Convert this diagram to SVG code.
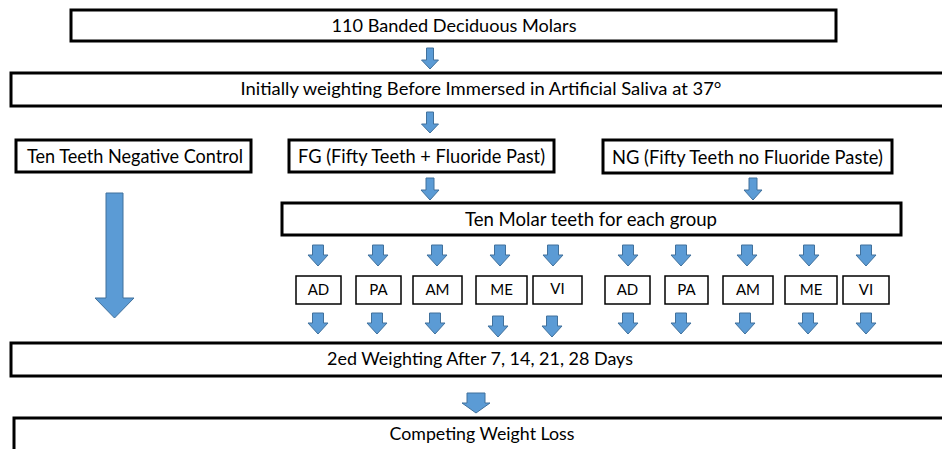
<svg xmlns="http://www.w3.org/2000/svg" width="942" height="449" viewBox="0 0 942 449">
<style>
.big{fill:#fff;stroke:#000;stroke-width:3}
.sm{fill:#fff;stroke:#000;stroke-width:1.5}
.t{font-family:Lato,"Open Sans","Liberation Sans",sans-serif;fill:#000;text-anchor:middle}
.t17{font-size:18px}
.t19{font-size:20px}
.t14{font-size:15px}
.ar{fill:#5B9BD5;stroke:#41719C;stroke-width:1}
</style>
<rect width="942" height="449" fill="#fff"/>
<g id="connectors">
<path class="ar" d="M426.5,48 H433.5 V60 H438.5 L430,69 L421.5,60 H426.5 Z"/>
<path class="ar" d="M426.5,112 H433.5 V124 H438.5 L430,133 L421.5,124 H426.5 Z"/>
<path class="ar" d="M426,178 H434 V190 H439 L430,200 L421,190 H426 Z"/>
<path class="ar" d="M749,178 H757 V190 H762 L753,200 L744,190 H749 Z"/>
<path class="ar" d="M106,193 H123 V298 H134 L114.5,318 L95,298 H106 Z"/>
<path class="ar" d="M467,393 H485 V403 H490 L476,413 L462,403 H467 Z"/>
<g id="row1">
<path class="ar" d="M312.5,245 H323.5 V255 H328 L318,266 L308,255 H312.5 Z"/>
<path class="ar" d="M372.5,245 H383.5 V255 H388 L378,266 L368,255 H372.5 Z"/>
<path class="ar" d="M431.5,245 H442.5 V255 H447 L437,266 L427,255 H431.5 Z"/>
<path class="ar" d="M494.5,245 H505.5 V255 H510 L500,266 L490,255 H494.5 Z"/>
<path class="ar" d="M547.5,245 H558.5 V255 H563 L553,266 L543,255 H547.5 Z"/>
<path class="ar" d="M622.5,245 H633.5 V255 H638 L628,266 L618,255 H622.5 Z"/>
<path class="ar" d="M675.5,245 H686.5 V255 H691 L681,266 L671,255 H675.5 Z"/>
<path class="ar" d="M741.5,245 H752.5 V255 H757 L747,266 L737,255 H741.5 Z"/>
<path class="ar" d="M803.5,245 H814.5 V255 H819 L809,266 L799,255 H803.5 Z"/>
<path class="ar" d="M860.5,245 H871.5 V255 H876 L866,266 L856,255 H860.5 Z"/>
</g>
<g id="row2">
<path class="ar" d="M312.5,313 H323.5 V323 H328 L318,334 L308,323 H312.5 Z"/>
<path class="ar" d="M371.5,313 H382.5 V323 H387 L377,334 L367,323 H371.5 Z"/>
<path class="ar" d="M429.5,313 H440.5 V323 H445 L435,334 L425,323 H429.5 Z"/>
<path class="ar" d="M492.5,316 H503.5 V326 H508 L498,337 L488,326 H492.5 Z"/>
<path class="ar" d="M546.5,316 H557.5 V326 H562 L552,337 L542,326 H546.5 Z"/>
<path class="ar" d="M622.5,313 H633.5 V323 H638 L628,334 L618,323 H622.5 Z"/>
<path class="ar" d="M675.5,313 H686.5 V323 H691 L681,334 L671,323 H675.5 Z"/>
<path class="ar" d="M739.5,313 H750.5 V323 H755 L745,334 L735,323 H739.5 Z"/>
<path class="ar" d="M802.5,313 H813.5 V323 H818 L808,334 L798,323 H802.5 Z"/>
<path class="ar" d="M860.5,313 H871.5 V323 H876 L866,334 L856,323 H860.5 Z"/>
</g>
</g>
<g id="n-molars"><rect class="big" x="71" y="10" width="765" height="31"/><text class="t t17" x="454" y="32" textLength="245" lengthAdjust="spacingAndGlyphs">110 Banded Deciduous Molars</text></g>
<g id="n-initial"><rect class="big" x="11" y="73" width="945" height="33"/><text class="t t17" x="481" y="95" textLength="481" lengthAdjust="spacingAndGlyphs">Initially weighting Before Immersed in Artificial Saliva at 37°</text></g>
<g id="n-control"><rect class="big" x="16" y="140" width="235" height="32"/><text class="t t19" x="135" y="163" textLength="216" lengthAdjust="spacingAndGlyphs">Ten Teeth Negative Control</text></g>
<g id="n-fg"><rect class="big" x="289" y="140" width="265" height="32"/><text class="t t19" x="421.5" y="163" textLength="247" lengthAdjust="spacingAndGlyphs">FG (Fifty Teeth + Fluoride Past)</text></g>
<g id="n-ng"><rect class="big" x="603" y="140" width="289" height="33"/><text class="t t19" x="747.5" y="164" textLength="271" lengthAdjust="spacingAndGlyphs">NG (Fifty Teeth no Fluoride Paste)</text></g>
<g id="n-tenmolar"><rect class="big" x="282" y="203" width="619" height="32"/><text class="t t19" x="591" y="226" textLength="252" lengthAdjust="spacingAndGlyphs">Ten Molar teeth for each group</text></g>
<g id="n-fg-ad"><rect class="sm" x="296" y="276" width="45" height="28"/><text class="t t14" x="318.5" y="295">AD</text></g>
<g id="n-fg-pa"><rect class="sm" x="356" y="276" width="45" height="28"/><text class="t t14" x="378.5" y="295">PA</text></g>
<g id="n-fg-am"><rect class="sm" x="413" y="276" width="49" height="28"/><text class="t t14" x="437.5" y="295">AM</text></g>
<g id="n-fg-me"><rect class="sm" x="476" y="276" width="51" height="28"/><text class="t t14" x="501.5" y="295">ME</text></g>
<g id="n-fg-vi"><rect class="sm" x="533" y="276" width="49" height="28"/><text class="t t14" x="557.5" y="294">VI</text></g>
<g id="n-ng-ad"><rect class="sm" x="605" y="276" width="45" height="28"/><text class="t t14" x="627.5" y="295">AD</text></g>
<g id="n-ng-pa"><rect class="sm" x="665" y="276" width="43" height="28"/><text class="t t14" x="686.5" y="295">PA</text></g>
<g id="n-ng-am"><rect class="sm" x="723" y="276" width="50" height="28"/><text class="t t14" x="748" y="295">AM</text></g>
<g id="n-ng-me"><rect class="sm" x="785" y="276" width="52" height="28"/><text class="t t14" x="811" y="295">ME</text></g>
<g id="n-ng-vi"><rect class="sm" x="843" y="276" width="46" height="28"/><text class="t t14" x="866" y="295">VI</text></g>
<g id="n-second"><rect class="big" x="11" y="343" width="945" height="33"/><text class="t t17" x="480" y="365" textLength="306" lengthAdjust="spacingAndGlyphs">2ed Weighting After 7, 14, 21, 28 Days</text></g>
<g id="n-loss"><rect class="big" x="14" y="418" width="945" height="45"/><text class="t t17" x="482" y="440" textLength="185" lengthAdjust="spacingAndGlyphs">Competing Weight Loss</text></g>
</svg>
